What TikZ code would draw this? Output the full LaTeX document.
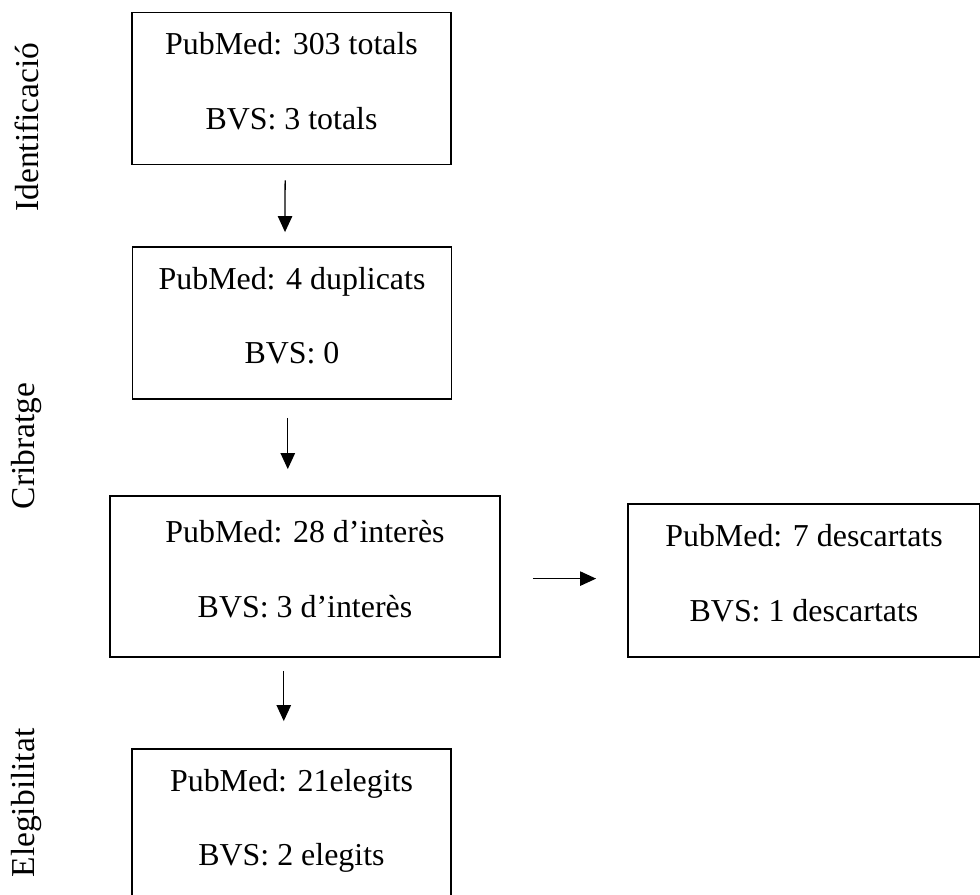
\documentclass[tikz,border=0pt]{standalone}
\usepackage{fontspec}
\setmainfont{Liberation Serif}
\usetikzlibrary{arrows.meta}
\newcommand\twoline[2]{\rule{0pt}{18pt}#1\\#2\rule[-13pt]{0pt}{13pt}}

\begin{document}
\begin{tikzpicture}[x=0.25mm,y=-0.25mm,
  box/.style={draw,line width=1.3pt,align=center,inner sep=0pt,
              font=\fontsize{22.7}{53.2}\selectfont},
  stage/.style={box,minimum width=79.75mm,minimum height=38mm},
  flow/.style={-{Triangle[length=4mm,width=3.6mm]},line width=.9pt},
  phase/.style={rotate=90,font=\fontsize{23.8}{28}\selectfont}]
  \useasboundingbox (0,0) rectangle (980,894);
  \node[stage] (tot) at (291.5,88.5) {\twoline{PubMed: 303 totals}{BVS: 3 totals}};
  \node[stage] (dup) at (292,323) {\twoline{PubMed: 4 duplicats}{BVS: 0}};
  \node[box,minimum width=97.5mm,minimum height=40.25mm] (int) at (305,576.5)
    {\twoline{PubMed: 28 d’interès}{BVS: 3 d’interès}};
  \node[box,minimum width=88mm,minimum height=38.25mm] (desc) at (804,580.5)
    {\twoline{PubMed: 7 descartats}{BVS: 1 descartats}};
  \node[stage] (eleg) at (291.5,825) {\twoline{PubMed: 21elegits}{BVS: 2 elegits}};
  % fases
  \node[phase] (ident) at (27,127) {Identificació};
  \node[phase] (crib) at (27,446) {Cribratge};
  \node[phase] (elph) at (27,803) {Elegibilitat};
  % fletxes
  \draw[flow,shorten <=3.75mm,shorten >=3.5mm] ([xshift=-4.5]tot.south) -- ([xshift=-5]dup.north);
  \draw[flow,shorten <=4.5mm,shorten >=6.5mm] ([xshift=-3]dup.south) -- ([xshift=-3]dup.south |- int.north);
  \draw[flow,shorten <=8mm,shorten >=7.75mm] ([yshift=-1.5]int.east) -- ([yshift=-1.5]int.east -| desc.west);
  \draw[flow,shorten <=3.25mm,shorten >=6.75mm] ([xshift=-5.5]eleg.north |- int.south) -- ([xshift=-5.5]eleg.north);
\end{tikzpicture}
\end{document}
